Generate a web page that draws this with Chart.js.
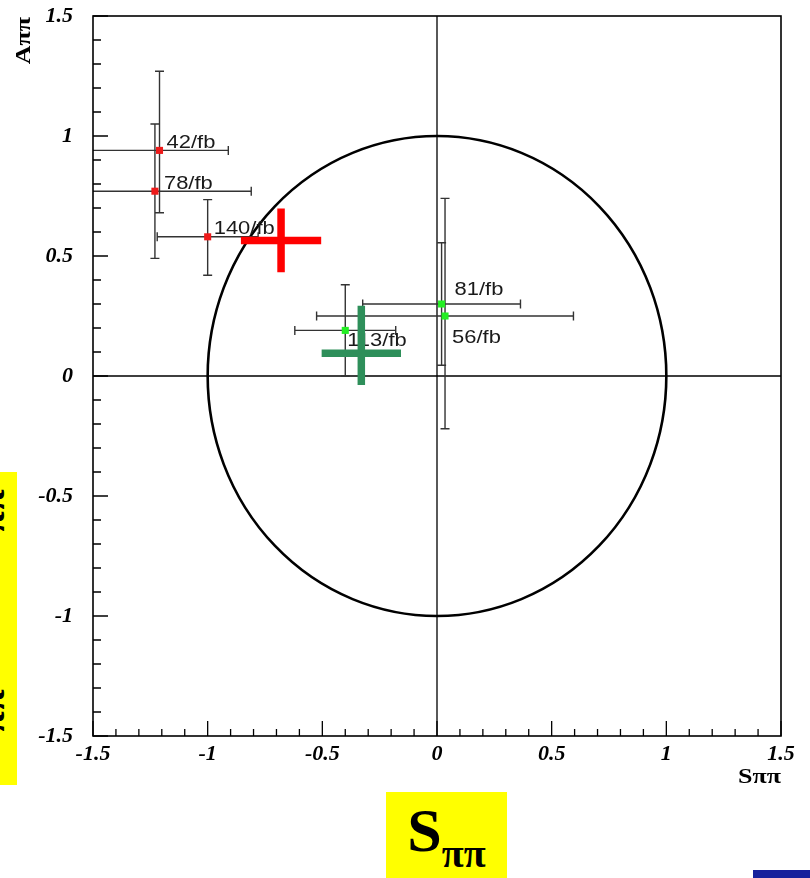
<!DOCTYPE html>
<html>
<head>
<meta charset="utf-8">
<script src="https://cdn.jsdelivr.net/npm/chart.js@4.4.1/dist/chart.umd.min.js"></script>
<style>
html, body { margin: 0; padding: 0; background: #fff; }
#wrap { position: relative; width: 810px; height: 878px; overflow: hidden; }
#grafica { position: absolute; left: 0; top: 0; }
.amarillo { position: absolute; background: #ffff00; overflow: hidden; }
.girado {
    position: absolute; left: -64px; white-space: nowrap;
    font: bold 62px "Liberation Serif", "DejaVu Serif", serif; line-height: 62px;
    transform-origin: left top; transform: rotate(-90deg); color: #000;
}
.girado span, #cajaS span { position: relative; top: 16px; font-size: 40px; }
#cajaS {
    left: 386px; top: 792px; width: 121px; height: 86px;
    font: bold 62px "Liberation Serif", "DejaVu Serif", serif; line-height: 76px;
    text-align: center; color: #000;
}
#barraAzul { position: absolute; left: 753px; top: 870px; width: 57px; height: 8px; background: #16219c; }
</style>
</head>
<body>
<div id="wrap">
    <canvas id="grafica" width="810" height="878"></canvas>
    <div class="amarillo" style="left:0;top:472px;width:17px;height:313px;">
        <div class="girado" style="top:106px;">A<span>ππ</span></div>
        <div class="girado" style="top:306px;">A<span>ππ</span></div>
    </div>
    <div class="amarillo" id="cajaS">S<span>ππ</span></div>
    <div id="barraAzul"></div>
</div>
<script>
// valores
const ejeMin = -1.5;
const ejeMax = 1.5;
const ejePaso = 0.5;

const belleEtiquetas = ['42/fb', '78/fb', '140/fb'];
const belleS = [-1.21, -1.23, -1.00];
const belleA = [0.94, 0.77, 0.58];
const belleErrS = [0.30, 0.42, 0.22];
const belleErrAup = [0.33, 0.28, 0.155];
const belleErrAdn = [0.26, 0.28, 0.16];

const babarEtiquetas = ['81/fb', '56/fb', '113/fb'];
const babarS = [0.02, 0.035, -0.40];
const babarA = [0.30, 0.25, 0.19];
const babarErrS = [0.344, 0.56, 0.22];
const babarErrAup = [0.255, 0.49, 0.19];
const babarErrAdn = [0.255, 0.47, 0.19];

// promedios (cruces grandes): Belle, BaBar
const promedioS = [-0.68, -0.33];
const promedioA = [0.565, 0.095];
const promedioErrS = [0.175, 0.173];
const promedioErrAup = [0.133, 0.198];
const promedioErrAdn = [0.133, 0.133];

const radioFisico = 1; // S^2 + A^2 <= 1

// desplazamiento de las etiquetas en pixeles
const belleNudge = [[7, -7], [9, -7], [6, -8]];
const babarNudge = [[13, -14], [7, 22], [2, 11]];

function puntos(S, A) {
    return S.map((s, i) => ({ x: s, y: A[i] }));
}

function barras(chart, S, A, eS, eUp, eDn, color, ancho, tapa) {
    const { ctx, scales: { x, y } } = chart;
    ctx.save();
    ctx.strokeStyle = color;
    ctx.lineWidth = ancho;
    ctx.lineCap = 'butt';
    S.forEach((s, i) => {
        const px = x.getPixelForValue(s);
        const py = y.getPixelForValue(A[i]);
        const x1 = x.getPixelForValue(s - eS[i]);
        const x2 = x.getPixelForValue(s + eS[i]);
        const y1 = y.getPixelForValue(A[i] + eUp[i]);
        const y2 = y.getPixelForValue(A[i] - eDn[i]);
        ctx.beginPath();
        ctx.moveTo(x1, py); ctx.lineTo(x2, py);
        ctx.moveTo(px, y1); ctx.lineTo(px, y2);
        if (tapa) {
            ctx.moveTo(x1, py - tapa); ctx.lineTo(x1, py + tapa);
            ctx.moveTo(x2, py - tapa); ctx.lineTo(x2, py + tapa);
            ctx.moveTo(px - tapa, y1); ctx.lineTo(px + tapa, y1);
            ctx.moveTo(px - tapa, y2); ctx.lineTo(px + tapa, y2);
        }
        ctx.stroke();
    });
    ctx.restore();
}

function etiquetas(chart, S, A, textos, nudge) {
    const { ctx, scales: { x, y } } = chart;
    ctx.save();
    ctx.fillStyle = '#1a1a1a';
    ctx.font = '18px "Liberation Sans", Arial, sans-serif';
    ctx.textBaseline = 'middle';
    ctx.textAlign = 'left';
    textos.forEach((t, i) => {
        ctx.save();
        ctx.translate(x.getPixelForValue(S[i]) + nudge[i][0], y.getPixelForValue(A[i]) + nudge[i][1]);
        ctx.scale(1.22, 1);
        ctx.fillText(t, 0, 0);
        ctx.restore();
    });
    ctx.restore();
}

const marco = {
    id: 'marco',
    beforeDatasetsDraw(chart) {
        const { ctx, chartArea: a, scales: { x, y } } = chart;
        ctx.save();
        ctx.beginPath();
        ctx.rect(a.left, a.top, a.right - a.left, a.bottom - a.top);
        ctx.clip();

        // ejes en cero
        ctx.strokeStyle = '#000';
        ctx.lineWidth = 1.3;
        const x0 = x.getPixelForValue(0);
        const y0 = y.getPixelForValue(0);
        ctx.beginPath();
        ctx.moveTo(a.left, y0); ctx.lineTo(a.right, y0);
        ctx.moveTo(x0, a.top); ctx.lineTo(x0, a.bottom);
        ctx.stroke();

        // circulo fisico
        ctx.lineWidth = 2.6;
        ctx.beginPath();
        ctx.ellipse(x0, y0,
            x.getPixelForValue(radioFisico) - x0,
            y0 - y.getPixelForValue(radioFisico), 0, 0, 2 * Math.PI);
        ctx.stroke();

        barras(chart, belleS, belleA, belleErrS, belleErrAup, belleErrAdn, '#333', 1.4, 4.5);
        barras(chart, babarS, babarA, babarErrS, babarErrAup, babarErrAdn, '#333', 1.4, 4.5);
        ctx.restore();

        // marco y marcas de los ejes
        ctx.save();
        ctx.strokeStyle = '#000';
        ctx.lineWidth = 1.6;
        ctx.strokeRect(a.left, a.top, a.right - a.left, a.bottom - a.top);
        ctx.lineWidth = 1.3;
        ctx.beginPath();
        for (let i = -15; i <= 15; i++) {
            const v = i / 10;
            const mayor = i % 5 === 0;
            const px = x.getPixelForValue(v);
            const py = y.getPixelForValue(v);
            ctx.moveTo(px, a.bottom);
            ctx.lineTo(px, a.bottom - (mayor ? 15 : 7));
            ctx.moveTo(a.left, py);
            ctx.lineTo(a.left + (mayor ? 15 : 8), py);
        }
        ctx.stroke();
        ctx.restore();
    },
    afterDatasetsDraw(chart) {
        const { ctx, chartArea: a } = chart;
        etiquetas(chart, belleS, belleA, belleEtiquetas, belleNudge);
        etiquetas(chart, babarS, babarA, babarEtiquetas, babarNudge);

        // cruces de los promedios
        barras(chart, promedioS.slice(0, 1), promedioA.slice(0, 1), promedioErrS.slice(0, 1),
            promedioErrAup.slice(0, 1), promedioErrAdn.slice(0, 1), '#ff0000', 7.5, 0);
        barras(chart, promedioS.slice(1), promedioA.slice(1), promedioErrS.slice(1),
            promedioErrAup.slice(1), promedioErrAdn.slice(1), '#2e8f5a', 7.5, 0);

        // titulos de los ejes
        ctx.save();
        ctx.fillStyle = '#000';
        ctx.font = 'bold 20px "Liberation Serif", "DejaVu Serif", serif';
        ctx.textAlign = 'right';
        ctx.textBaseline = 'middle';
        ctx.save();
        ctx.translate(a.right, 778);
        ctx.scale(1.3, 1);
        ctx.fillText('Sππ', 0, 0);
        ctx.restore();
        ctx.translate(25, 17);
        ctx.rotate(-Math.PI / 2);
        ctx.scale(1.3, 1);
        ctx.fillText('Aππ', 0, 0);
        ctx.restore();
    }
};

const fuenteTicks = { family: '"Liberation Serif", "DejaVu Serif", serif', style: 'italic', weight: 'bold', size: 22 };

new Chart(document.getElementById('grafica'), {
    type: 'scatter',
    data: {
        datasets: [
            {
                label: 'Belle',
                data: puntos(belleS, belleA),
                backgroundColor: '#ee1a1a',
                borderWidth: 0,
                pointStyle: 'rect',
                pointRadius: 5
            },
            {
                label: 'BaBar',
                data: puntos(babarS, babarA),
                backgroundColor: '#22ee22',
                borderWidth: 0,
                pointStyle: 'rect',
                pointRadius: 5
            }
        ]
    },
    options: {
        responsive: false,
        animation: false,
        devicePixelRatio: 1,
        layout: { padding: { left: 0, top: 16, right: 29, bottom: 0 } },
        plugins: { legend: { display: false }, tooltip: { enabled: false } },
        scales: {
            x: {
                min: ejeMin, max: ejeMax,
                grid: { display: false, drawTicks: false },
                border: { display: false },
                ticks: { stepSize: ejePaso, color: '#000', font: fuenteTicks, padding: 5, maxRotation: 0, autoSkip: false,
                    callback: v => String(v) },
                afterFit: s => { s.height = 142; s.paddingLeft = 0; s.paddingRight = 0; }
            },
            y: {
                min: ejeMin, max: ejeMax,
                grid: { display: false, drawTicks: false },
                border: { display: false },
                ticks: { stepSize: ejePaso, color: '#000', font: fuenteTicks, padding: 20, autoSkip: false,
                    callback: v => String(v) },
                afterFit: s => { s.width = 93; s.paddingTop = 0; s.paddingBottom = 0; }
            }
        }
    },
    plugins: [marco]
});
</script>
</body>
</html>
